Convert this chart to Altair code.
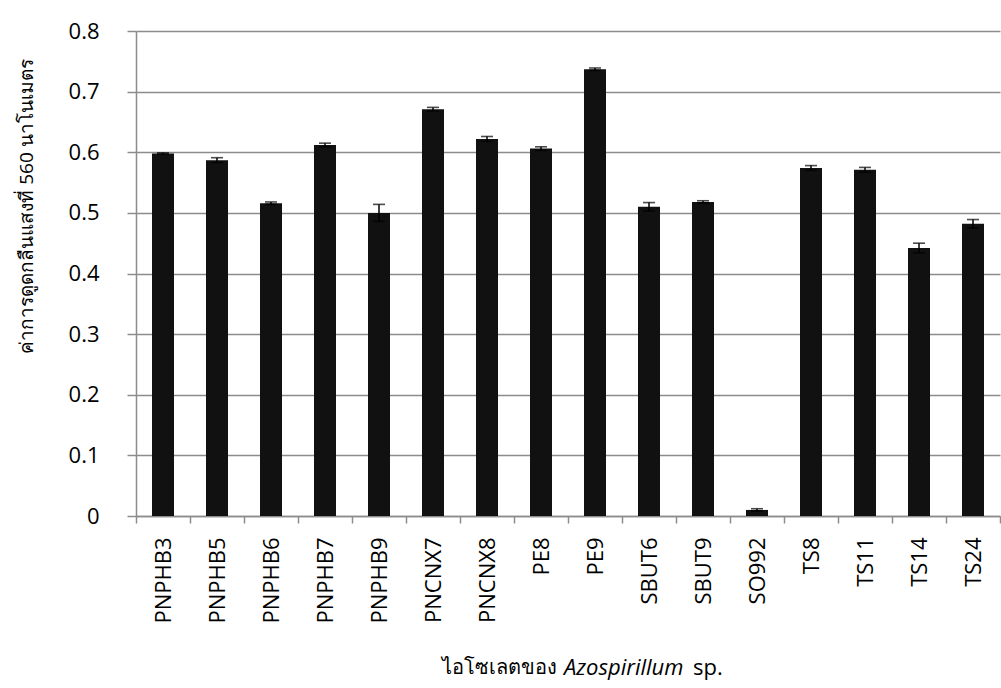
import altair as alt
import pandas as pd

# Azospirillum isolates and their absorbance at 560 nm (mean ± SD)
isolates = ["PNPHB3", "PNPHB5", "PNPHB6", "PNPHB7", "PNPHB9", "PNCNX7", "PNCNX8",
            "PE8", "PE9", "SBUT6", "SBUT9", "SO992", "TS8", "TS11", "TS14", "TS24"]
absorbance = [0.598, 0.587, 0.516, 0.612, 0.500, 0.671, 0.622,
              0.606, 0.737, 0.510, 0.518, 0.010, 0.574, 0.571, 0.442, 0.482]
sd = [0.001, 0.004, 0.002, 0.003, 0.014, 0.003, 0.004,
      0.003, 0.002, 0.007, 0.002, 0.002, 0.004, 0.004, 0.008, 0.007]
y_ticks = [0, 0.1, 0.2, 0.3, 0.4, 0.5, 0.6, 0.7, 0.8]

df = pd.DataFrame({"isolate": isolates, "a560": absorbance, "sd": sd})
df["lo"] = df["a560"] - df["sd"]
df["hi"] = df["a560"] + df["sd"]

FONT = "Open Sans"
GRID = "#8c8c8c"

x_enc = alt.X(
    "isolate:N", sort=isolates,
    scale=alt.Scale(paddingInner=0, paddingOuter=0),
    axis=alt.Axis(title=None, labelAngle=270, labelAlign="right", labelBaseline="middle",
                  labelFontSize=22, labelFont=FONT, labelColor="#000000", labelPadding=14,
                  tickBand="extent", tickSize=7, tickColor=GRID, tickWidth=1.5,
                  domainColor=GRID, domainWidth=1.5, grid=False),
)

y_scale = alt.Scale(domain=[0, 0.8], nice=False)

bars = alt.Chart(df).mark_bar(size=22, color="#111111").encode(
    x=x_enc,
    y=alt.Y("a560:Q", scale=y_scale,
            axis=alt.Axis(values=y_ticks, format=".1~f",
                          title="ค่าการดูดกลืนแสงที่ 560 นาโนเมตร",
                          titleFont=FONT, titleFontSize=19, titleFontWeight="normal",
                          titleColor="#000000", titleAngle=270,
                          titleX=-119, titleY=175, titleBaseline="top", titleAlign="center",
                          labelFontSize=22, labelFont=FONT, labelColor="#000000",
                          labelPadding=28, tickSize=9, tickColor=GRID, tickWidth=1.5,
                          domainColor=GRID, domainWidth=1.5,
                          gridColor=GRID, gridWidth=1.5)),
)

err_rule = alt.Chart(df).mark_rule(color="#000000", strokeWidth=1.5).encode(
    x=alt.X("isolate:N", sort=isolates), y="lo:Q", y2="hi:Q")

err_cap_hi = alt.Chart(df).mark_tick(color="#000000", size=12, thickness=1.6).encode(
    x=alt.X("isolate:N", sort=isolates), y="hi:Q")
err_cap_lo = alt.Chart(df).mark_tick(color="#000000", size=12, thickness=1.6).encode(
    x=alt.X("isolate:N", sort=isolates), y="lo:Q")

# x-axis title with the genus name in italics (one row each so text is drawn once)
one_row = pd.DataFrame({"k": [0]})
text_style = dict(font=FONT, fontWeight="normal", baseline="middle", color="#000000")
title_thai = alt.Chart(one_row).mark_text(text="ไอโซเลตของ", align="right", fontSize=20,
                                          **text_style).encode(
    x=alt.value(421), y=alt.value(637))
title_genus = alt.Chart(one_row).mark_text(text="Azospirillum", align="left", fontSize=22,
                                           fontStyle="italic", **text_style).encode(
    x=alt.value(428), y=alt.value(637))
title_sp = alt.Chart(one_row).mark_text(text="sp.", align="left", fontSize=22,
                                        **text_style).encode(
    x=alt.value(557), y=alt.value(637))

chart = alt.layer(bars, err_rule, err_cap_hi, err_cap_lo,
                  title_thai, title_genus, title_sp).properties(
    width=864, height=485,
    padding={"left": 17, "top": 20, "right": 0, "bottom": 6},
    background="#ffffff",
).configure_view(stroke=None)

chart.save("out.html", embed_options={"renderer": "svg", "actions": False})
